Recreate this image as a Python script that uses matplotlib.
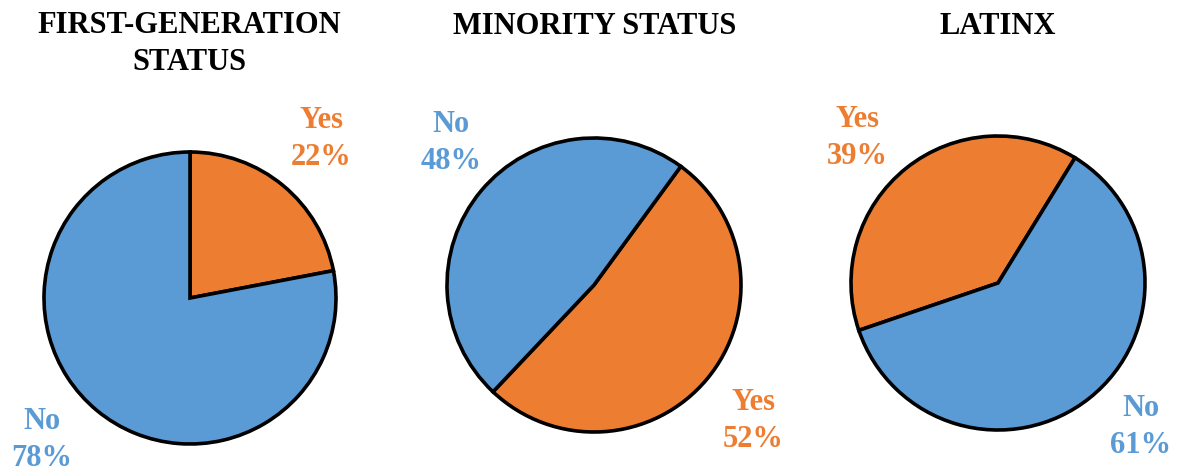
import matplotlib
matplotlib.use("Agg")
import matplotlib.pyplot as plt

titles = ["FIRST-GENERATION\nSTATUS", "MINORITY STATUS", "LATINX"]
categories = ["Yes", "No"]
yes_pct = [22, 52, 39]
no_pct = [78, 48, 61]

BLUE = "#5B9BD5"
ORANGE = "#ED7D31"
W, H = 1177, 472

plt.rcParams['font.family'] = ['Liberation Serif', 'DejaVu Serif']
fig = plt.figure(figsize=(W / 100, H / 100), dpi=100)

# pie geometry in pixels: center x, center y (from top), radius
geom = [(190, 298, 146), (594, 285, 147), (998, 283, 147)]
starts = [90, 53.8, 58.4]
ccw = [False, False, True]
title_pos = [(189, 44), (595, 27), (998, 27)]
yes_pos = [(321, 139), (753, 421), (857, 138)]
no_pos = [(42, 440), (451, 143), (1141, 427)]

FS = 22
for i in range(3):
    cx, cy, r = geom[i]
    ax = fig.add_axes([(cx - r) / W, 1 - (cy + r) / H, 2 * r / W, 2 * r / H])
    wedges, _ = ax.pie([yes_pct[i], no_pct[i]], colors=[ORANGE, BLUE],
                       startangle=starts[i], counterclock=ccw[i],
                       wedgeprops=dict(edgecolor="black", linewidth=2.6, clip_on=False))
    ax.set_xlim(-1, 1)
    ax.set_ylim(-1, 1)
    ax.set_axis_off()
    fig.text(title_pos[i][0] / W, 1 - title_pos[i][1] / H, titles[i],
             ha="center", va="center", fontsize=FS, fontweight="bold",
             linespacing=1.38, color="black")
    fig.text(yes_pos[i][0] / W, 1 - yes_pos[i][1] / H,
             f"{categories[0]}\n{yes_pct[i]}%", ha="center", va="center",
             fontsize=FS, fontweight="bold", linespacing=1.34, color=ORANGE)
    fig.text(no_pos[i][0] / W, 1 - no_pos[i][1] / H,
             f"{categories[1]}\n{no_pct[i]}%", ha="center", va="center",
             fontsize=FS, fontweight="bold", linespacing=1.34, color=BLUE)

fig.savefig("out.png", dpi=100)
